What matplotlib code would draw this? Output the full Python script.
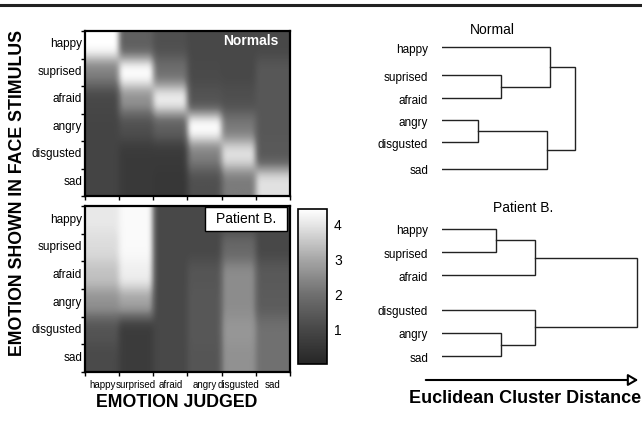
import numpy as np
import matplotlib
matplotlib.use('Agg')
import matplotlib.pyplot as plt
from matplotlib.colors import LinearSegmentedColormap
from matplotlib.patches import Rectangle, FancyArrowPatch
from matplotlib.lines import Line2D

plt.rcParams['font.family'] = ['Liberation Sans', 'DejaVu Sans']

# rotulos
estimulo = ['happy', 'suprised', 'afraid', 'angry', 'disgusted', 'sad']
julgado = ['happy', 'surprised', 'afraid', 'angry', 'disgusted', 'sad']

# linhas = emocao mostrada, colunas = emocao julgada
normais = np.array([
    [4.4, 1.6, 1.2, 1.0, 1.0, 1.0],
    [2.3, 4.4, 2.0, 1.05, 1.0, 1.4],
    [1.0, 2.6, 4.1, 1.3, 1.2, 1.4],
    [0.9, 1.2, 1.6, 4.4, 2.2, 1.4],
    [0.9, 0.6, 0.6, 2.3, 3.9, 1.45],
    [0.9, 0.6, 0.5, 1.2, 2.2, 3.9],
])
paciente = np.array([
    [4.0, 4.3, 1.0, 1.0, 1.0, 1.0],
    [3.8, 4.3, 1.0, 1.0, 1.8, 1.0],
    [3.4, 4.1, 1.0, 1.35, 2.5, 1.45],
    [2.6, 2.9, 1.0, 1.4, 2.5, 1.5],
    [1.3, 0.65, 1.0, 1.4, 2.7, 2.0],
    [1.05, 0.65, 1.0, 1.35, 2.6, 2.0],
])

# dendrogramas: folhas, posicao das folhas, fusoes (a, b, distancia)
folhas_n = ['happy', 'suprised', 'afraid', 'angry', 'disgusted', 'sad']
pos_n = [0, 1.15, 2.1, 3.0, 3.9, 5.0]
fusoes_n = [(1, 2, 1.18), (3, 4, 0.72), (0, 6, 2.16), (7, 5, 2.1), (8, 9, 2.66)]

folhas_p = ['happy', 'suprised', 'afraid', 'disgusted', 'angry', 'sad']
pos_p = [0, 1, 2, 3.5, 4.5, 5.5]
fusoes_p = [(0, 1, 1.08), (6, 2, 1.86), (4, 5, 1.18), (3, 8, 1.86), (7, 9, 3.9)]

# escala de cinza da barra
vmax = 4.4
niveis = [0, 1, 2, 3, 4, 4.4]
cinzas = ['#262626', '#484848', '#707070', '#a8a8a8', '#e8e8e8', '#ffffff']
cmap = LinearSegmentedColormap.from_list('cinza', [(v / vmax, c) for v, c in zip(niveis, cinzas)])

W, H = 642, 431
fig = plt.figure(figsize=(W / 100, H / 100), dpi=100)

def caixa(x0, y0, x1, y1):
    return [x0 / W, 1 - y1 / H, (x1 - x0) / W, (y1 - y0) / H]

def mapa(ax, dados, rot_x):
    # celulas repetidas para o bicubic so suavizar as bordas
    blocos = np.kron(dados, np.ones((2, 6)))
    im = ax.imshow(blocos, cmap=cmap, vmin=0, vmax=vmax, interpolation='bicubic',
                   aspect='auto', extent=(0, 6, 6, 0))
    ax.set_yticks(np.arange(6) + 0.4)
    ax.set_yticklabels(estimulo, fontsize=8.5)
    ax.set_yticks(np.arange(7), minor=True)
    ax.set_xticks(np.arange(6) + 0.5)
    ax.set_xticks(np.arange(7), minor=True)
    if rot_x:
        ax.set_xticklabels(julgado, fontsize=7)
    else:
        ax.set_xticklabels([])
    ax.tick_params(which='major', length=0, pad=2)
    ax.tick_params(axis='x', which='major', pad=5)
    ax.tick_params(which='minor', length=3, width=1)
    for s in ax.spines.values():
        s.set_linewidth(1.6)
    return im

ax1 = fig.add_axes(caixa(85, 32, 290, 197))
mapa(ax1, normais, False)
ax1.text(0.945, 0.985, 'Normals', color='white', fontweight='bold', fontsize=10,
         ha='right', va='top', transform=ax1.transAxes)

ax2 = fig.add_axes(caixa(85, 207, 290, 373))
im = mapa(ax2, paciente, True)
ax2.add_patch(Rectangle((0.585, 0.849), 0.40, 0.145, transform=ax2.transAxes,
                        facecolor='white', edgecolor='black', lw=1, zorder=3))
ax2.text(0.785, 0.925, 'Patient B.', fontsize=10, ha='center', va='center',
         transform=ax2.transAxes, zorder=4)

cax = fig.add_axes(caixa(298, 210, 327, 365))
cb = fig.colorbar(im, cax=cax, ticks=[1, 2, 3, 4])
cb.ax.tick_params(length=0, labelsize=10, pad=5)
cb.outline.set_linewidth(1.2)

fig.text(18 / W, 1 - 193 / H, 'EMOTION SHOWN IN FACE STIMULUS', rotation=90,
         fontweight='bold', fontsize=12.8, ha='center', va='center')
fig.text(177 / W, 1 - 403 / H, 'EMOTION JUDGED', fontweight='bold', fontsize=12.8,
         ha='center', va='center')

def dendro(ax, nomes, ys, fusoes, ymax):
    xs = [0.0] * len(nomes)
    ys = list(ys)
    for a, b, h in fusoes:
        ax.plot([xs[a], h, h, xs[b]], [ys[a], ys[a], ys[b], ys[b]],
                color='#222222', lw=1.0, solid_joinstyle='miter')
        xs.append(h)
        ys.append((ys[a] + ys[b]) / 2)
    ax.set_xlim(0, 4)
    ax.set_ylim(ymax, -0.3)
    ax.set_yticks(ys[:len(nomes)])
    ax.set_yticklabels(nomes, fontsize=8.5)
    ax.tick_params(axis='y', length=0, pad=10)
    ax.set_xticks([])
    for s in ax.spines.values():
        s.set_visible(False)

ax3 = fig.add_axes(caixa(442, 40.7, 642, 177.3))
dendro(ax3, folhas_n, pos_n, fusoes_n, 5.3)
ax4 = fig.add_axes(caixa(442, 223, 642, 364))
dendro(ax4, folhas_p, pos_p, fusoes_p, 5.8)

fig.text(492 / W, 1 - 30 / H, 'Normal', fontsize=10, ha='center', va='center')
fig.text(523 / W, 1 - 208 / H, 'Patient B.', fontsize=10, ha='center', va='center')

seta = FancyArrowPatch((423 / W, 1 - 381 / H), (641 / W, 1 - 381 / H),
                       transform=fig.transFigure, arrowstyle='-|>,head_length=6,head_width=3.5',
                       facecolor='white', edgecolor='black', lw=1.5)
fig.add_artist(seta)
fig.text(525 / W, 1 - 399 / H, 'Euclidean Cluster Distance', fontweight='bold',
         fontsize=13, ha='center', va='center')

fig.add_artist(Line2D([0, 1], [1 - 6 / H, 1 - 6 / H], color='#222222', lw=2.2))

fig.savefig('out.png', dpi=100)
